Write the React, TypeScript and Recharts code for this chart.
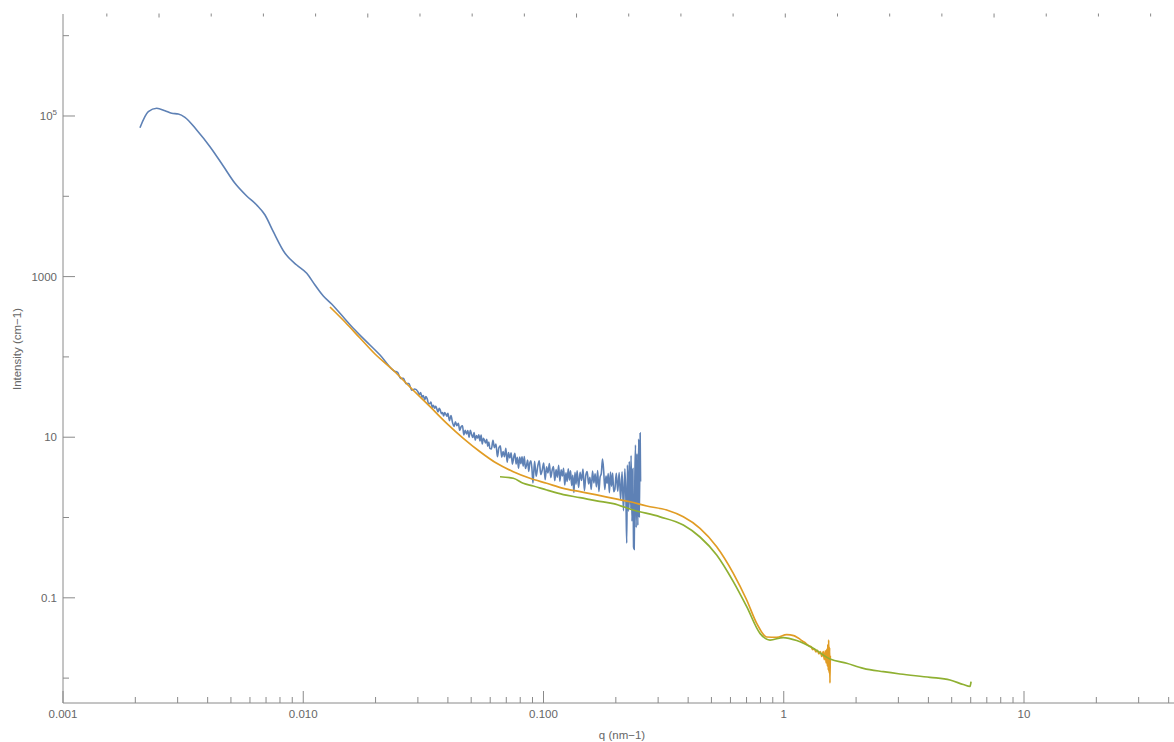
import { ComposedChart, Line, XAxis, YAxis } from 'recharts';

// q (nm^-1) and intensity (cm^-1)
const blueQ = [
  0.002091, 0.002265, 0.002455, 0.002658, 0.002834, 0.003019, 0.003218, 0.003601, 0.004091, 0.004646,
  0.005198, 0.005815, 0.0064, 0.006933, 0.007505, 0.008395, 0.009391, 0.01034, 0.01119, 0.01212,
  0.01313, 0.01422, 0.01615, 0.01807, 0.02087,
  0.024, 0.0247, 0.0254, 0.0261, 0.0268, 0.0275, 0.0283, 0.0291,
  0.03, 0.0304, 0.0308, 0.0312, 0.0316, 0.032, 0.0324, 0.0328, 0.0332, 0.0336,
  0.034, 0.0344, 0.0348, 0.0352, 0.0356, 0.036, 0.0364, 0.0368, 0.0372, 0.0376,
  0.038, 0.0384, 0.0388, 0.0392, 0.0396,
  0.04, 0.0406, 0.0412, 0.0418, 0.0424, 0.043, 0.0436, 0.0442, 0.0448, 0.0454,
  0.046, 0.0466, 0.0472, 0.0478, 0.0484, 0.049, 0.0496, 0.0502, 0.0508, 0.0514,
  0.052, 0.0526, 0.0532, 0.0538, 0.0544, 0.055, 0.0556, 0.0562, 0.0568, 0.0574,
  0.058, 0.0586, 0.0592, 0.0598,
  0.0607, 0.0616, 0.0625, 0.0634, 0.0643, 0.0652, 0.0661, 0.067, 0.0679, 0.0688,
  0.0697, 0.0706, 0.0715, 0.0724, 0.0733, 0.0742, 0.0751, 0.076, 0.0769, 0.0778,
  0.0787, 0.0796, 0.0805, 0.0814, 0.0823, 0.0832, 0.0841, 0.085, 0.0859, 0.0868,
  0.0877, 0.0886, 0.0895, 0.0904,
  0.0918, 0.0932, 0.0946, 0.096, 0.0974, 0.0988, 0.1002, 0.1016, 0.103, 0.1044,
  0.1058, 0.1072, 0.1086, 0.11, 0.1114, 0.1128, 0.1142, 0.1156, 0.117, 0.1184,
  0.1198, 0.1212, 0.1226, 0.124, 0.1254, 0.1268, 0.1282, 0.1296, 0.131, 0.1324,
  0.1338, 0.1352, 0.1366, 0.138,
  0.14, 0.142, 0.144, 0.146, 0.148, 0.15, 0.152, 0.154, 0.156, 0.158,
  0.16, 0.162, 0.164, 0.166, 0.168, 0.17, 0.172, 0.174, 0.176, 0.178,
  0.18, 0.182, 0.184, 0.186, 0.188, 0.19, 0.192, 0.194, 0.196,
  0.1981, 0.2009, 0.2037, 0.2065, 0.2094, 0.2123, 0.2152, 0.2182, 0.2205, 0.222,
  0.2235, 0.2255, 0.2275, 0.2295, 0.2315, 0.2335, 0.2355, 0.237, 0.2385, 0.24,
  0.2415, 0.243, 0.245, 0.247, 0.249, 0.2505, 0.2525, 0.2535,
];
const blueI = [
  71450, 113100, 124700, 116400, 108100, 105900, 96340, 66950, 41470, 23840,
  14520, 10090, 7794, 5850, 3625, 1951, 1395, 1099, 786, 573,
  456, 349, 227, 162, 105.6,
  66.4, 64.2, 54.1, 54.1, 46.5, 46.6, 38.5, 39.8,
  36.9, 33.8, 36.0, 31.5, 33.1, 29.1, 32.0, 30.1, 26.3, 26.1,
  27.5, 23.5, 25.0, 22.9, 24.2, 22.4, 20.7, 22.9, 21.6, 19.6,
  20.3, 18.4, 20.3, 19.4, 18.2,
  19.9, 16.1, 18.6, 15.3, 13.6, 15.6, 13.9, 14.9, 12.2, 13.5,
  13.9, 10.7, 12.2, 11.0, 12.1, 9.99, 12.2, 10.8, 9.92, 11.4,
  9.19, 10.5, 9.76, 10.7, 9.0, 10.6, 8.23, 9.7, 9.16, 8.48,
  9.44, 7.74, 8.7, 7.27,
  7.14, 9.13, 7.39, 8.23, 5.73, 7.38, 7.84, 5.65, 6.64, 5.72,
  7.3, 4.89, 6.42, 5.5, 6.41, 4.64, 5.54, 6.31, 4.64, 5.62,
  4.1, 5.66, 4.69, 5.72, 4.37, 5.76, 4.08, 4.49, 5.19, 3.75,
  4.79, 5.08, 4.05, 2.7,
  5.02, 3.26, 4.33, 5.09, 3.43, 3.91, 4.76, 2.96, 4.29, 3.58,
  4.7, 3.14, 3.87, 4.31, 2.88, 3.95, 3.17, 4.48, 2.83, 3.94,
  3.29, 4.1, 2.54, 3.6, 2.82, 4.04, 2.94, 3.81, 2.5, 3.36,
  2.05, 3.65, 2.6, 3.83,
  2.36, 3.66, 2.9, 4.02, 2.16, 3.36, 3.73, 2.62, 3.16, 2.24,
  3.79, 2.69, 3.51, 2.41, 3.85, 2.11, 3.18, 3.52, 5.35, 3.82,
  2.23, 3.28, 2.66, 3.53, 2.04, 3.68, 2.46, 3.57, 2.1,
  2.23, 3.55, 2.12, 3.64, 1.67, 3.71, 1.22, 4.04, 1.46, 0.48,
  4.49, 1.2, 4.96, 1.29, 5.9, 0.9, 4.06, 0.43, 0.4, 3.2,
  8.0, 0.75, 6.2, 0.8, 9.5, 1.0, 11.3, 2.8,
];

const orangeQ = [
  0.01292, 0.01492, 0.01722, 0.01989, 0.02363, 0.02862, 0.03371, 0.03955, 0.04637, 0.05442,
  0.06386, 0.07485, 0.08785, 0.1031, 0.1209, 0.1419, 0.1665, 0.1952, 0.2291, 0.2689,
  0.3257, 0.3818, 0.4481, 0.5258, 0.6166, 0.7011, 0.7716, 0.8492, 0.9348, 1.029,
  1.1, 1.13, 1.16, 1.19, 1.22, 1.25, 1.28, 1.3, 1.32, 1.34,
  1.36, 1.38, 1.4, 1.42, 1.44, 1.46, 1.475, 1.49, 1.5, 1.51,
  1.518, 1.525, 1.532, 1.538, 1.545, 1.552, 1.557, 1.562,
];
const orangeI = [
  418, 272, 172, 108.7, 68.7, 38.7, 24.0, 14.9, 9.69, 6.6,
  4.73, 3.72, 3.08, 2.67, 2.31, 2.1, 1.91, 1.73, 1.57, 1.39,
  1.24, 1.02, 0.734, 0.433, 0.202, 0.0939, 0.0481, 0.0325, 0.0322, 0.0348,
  0.0338, 0.0326, 0.031, 0.0292, 0.028, 0.0262, 0.025, 0.0246, 0.0226, 0.0232,
  0.0212, 0.0222, 0.02, 0.0214, 0.0186, 0.0214, 0.017, 0.0218, 0.0155, 0.0228,
  0.0142, 0.0262, 0.0126, 0.0298, 0.0116, 0.024, 0.0087, 0.019,
];

const greenQ = [
  0.06591, 0.07485, 0.08236, 0.09066, 0.1031, 0.1209, 0.1419, 0.1665, 0.1952, 0.2365,
  0.3054, 0.3818, 0.4481, 0.5258, 0.6166, 0.7011, 0.7963, 0.8765, 0.9956, 1.132,
  1.327, 1.558, 1.828, 2.144, 2.597, 3.047, 4.062, 4.92, 5.59, 5.96, 6.02,
];
const greenI = [
  3.22, 3.08, 2.67, 2.47, 2.2, 1.93, 1.77, 1.61, 1.49, 1.24,
  1.02, 0.806, 0.572, 0.341, 0.159, 0.0775, 0.0361, 0.0298, 0.032, 0.0294,
  0.0235, 0.0173, 0.0153, 0.01324, 0.01202, 0.01125, 0.01023, 0.00947, 0.00832, 0.00786, 0.00907,
];

const xTicks = [
  0.001, 0.002, 0.003, 0.004, 0.005, 0.006, 0.007, 0.008, 0.009,
  0.01, 0.02, 0.03, 0.04, 0.05, 0.06, 0.07, 0.08, 0.09,
  0.1, 0.2, 0.3, 0.4, 0.5, 0.6, 0.7, 0.8, 0.9,
  1, 2, 3, 4, 5, 6, 7, 8, 9,
  10, 20, 30, 40,
];
const xMajor = [0.001, 0.01, 0.1, 1, 10];
const xLabels = ['0.001', '0.010', '0.100', '1', '10'];

const yTicks = [1e6, 1e5, 1e4, 1000, 100, 10, 1, 0.1, 0.01];
const yMajor = [1e5, 1000, 10, 0.1];
const yLabels = ['10^5', '1000', '10', '0.1'];

const topTicks = [-13, -12, -11, -10, -9, -8, -7, -6, -5, -4, -3, -2, -1, 0, 1, 2, 3, 4, 5, 6, 7];

const BLUE = '#5E81B5';
const ORANGE = '#E19C24';
const GREEN = '#8FB032';
const AXIS = '#8a8a8a';
const TEXT = '#666666';
const FONT = '"Liberation Sans", Arial, sans-serif';

const toRows = (qs: number[], is: number[]) => qs.map((q, i) => ({ q, I: is[i] }));
const blueData = toRows(blueQ, blueI);
const orangeData = toRows(orangeQ, orangeI);
const greenData = toRows(greenQ, greenI);

function BottomTick(props: any) {
  const { x, y, payload } = props;
  const idx = xMajor.indexOf(payload.value);
  const major = idx >= 0;
  return (
    <g>
      <line x1={x} x2={x} y1={y} y2={y - (major ? 12 : 6)} stroke={AXIS} />
      {major && (
        <text x={x} y={y + 15} textAnchor="middle" fill={TEXT} fontSize={11.5} fontFamily={FONT}>
          {xLabels[idx]}
        </text>
      )}
    </g>
  );
}

function LeftTick(props: any) {
  const { x, y, payload } = props;
  const idx = yMajor.indexOf(payload.value);
  const major = idx >= 0;
  const label = major ? yLabels[idx] : '';
  return (
    <g>
      <line x1={x} x2={x + (major ? 12 : 6)} y1={y} y2={y} stroke={AXIS} />
      {major && (
        <text x={x - 6} y={y + 4} textAnchor="end" fill={TEXT} fontSize={11.5} fontFamily={FONT}>
          {label.includes('^') ? (
            <>
              <tspan>{label.split('^')[0]}</tspan>
              <tspan dy={-5} fontSize={8}>{label.split('^')[1]}</tspan>
            </>
          ) : (
            label
          )}
        </text>
      )}
    </g>
  );
}

// faint ticks along the top edge
function TopTick(props: any) {
  const { x, payload } = props;
  const long = payload.value % 4 === 0;
  return <line x1={x} x2={x} y1={13.5} y2={13.5 + (long ? 4 : 3)} stroke="#888" strokeWidth={1} />;
}

export default function App() {
  return (
    <div style={{ position: 'absolute', left: 0, top: 0, background: '#fff' }}>
      <ComposedChart width={1174} height={742} margin={{ top: 13, right: 0, bottom: 0, left: 0 }}>
        <XAxis
          dataKey="q"
          type="number"
          scale="log"
          domain={[0.001, 42.1]}
          allowDataOverflow
          ticks={xTicks}
          interval={0}
          height={39}
          tickSize={0}
          tickMargin={0}
          tickLine={false}
          axisLine={{ stroke: AXIS }}
          tick={<BottomTick />}
        />
        <XAxis
          xAxisId="top"
          orientation="top"
          type="number"
          dataKey="q"
          domain={[-13.84, 7.448]}
          allowDataOverflow
          ticks={topTicks}
          interval={0}
          height={1}
          tickSize={0}
          tickMargin={0}
          tickLine={false}
          axisLine={false}
          tick={<TopTick />}
        />
        <YAxis
          dataKey="I"
          type="number"
          scale="log"
          domain={[0.0049, 1.862e6]}
          allowDataOverflow
          ticks={yTicks}
          interval={0}
          width={63}
          tickSize={0}
          tickMargin={0}
          tickLine={false}
          axisLine={{ stroke: AXIS }}
          tick={<LeftTick />}
        />
        <Line data={blueData} dataKey="I" type="monotone" stroke={BLUE} strokeWidth={1.6} dot={false} isAnimationActive={false} />
        <Line data={orangeData} dataKey="I" type="monotone" stroke={ORANGE} strokeWidth={1.7} dot={false} isAnimationActive={false} />
        <Line data={greenData} dataKey="I" type="monotone" stroke={GREEN} strokeWidth={1.7} dot={false} isAnimationActive={false} />
        <text x={622} y={739} textAnchor="middle" fill={TEXT} fontSize={11.5} fontFamily={FONT}>
          q (nm−1)
        </text>
        <text
          x={21}
          y={349}
          textAnchor="middle"
          fill={TEXT}
          fontSize={11.5}
          fontFamily={FONT}
          transform="rotate(-90 21 349)"
        >
          Intensity (cm−1)
        </text>
      </ComposedChart>
    </div>
  );
}
